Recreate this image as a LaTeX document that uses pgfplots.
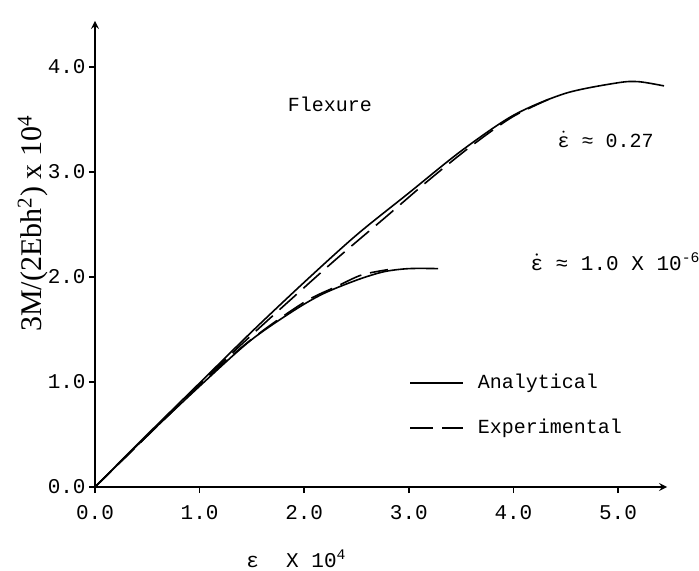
\documentclass[border=0pt]{standalone}
\usepackage{fontspec}
\setmainfont{Liberation Mono}
\newfontfamily\serif{Liberation Serif}
\usepackage{pgfplots}
\pgfplotsset{compat=1.18}

\newcommand{\edot}{$\dot{\mbox{ε}}$}

\begin{document}
\begin{tikzpicture}
\begin{axis}[
  x=52.3pt, y=52.5pt,
  xmin=0, xmax=5.47, ymin=0, ymax=4.44,
  axis lines=left,
  axis line style={line width=0.8pt},
  xtick={0,1,2,3,4,5}, ytick={0,1,2,3,4},
  /pgf/number format/.cd, fixed, fixed zerofill, precision=1, assume math mode=true,
  /pgfplots/.cd,
  tick align=outside, major tick length=3pt,
  tick style={line width=0.8pt, black},
  tick label style={font=\fontsize{10.5}{12}\selectfont},
  xticklabel style={yshift=-2.5pt},
  yticklabel style={inner sep=1.5pt},
  xlabel={ε\hspace{1.3em}X 10\textsuperscript{4}},
  every axis x label/.style={at={(axis description cs:0.352,0)}, yshift=-40pt, anchor=base, font=\fontsize{10.5}{12}\selectfont},
  ylabel={\serif 3M/(2Ebh\textsuperscript{2}) x 10\textsuperscript{4}},
  every axis y label/.style={at={(axis description cs:0,0.565)}, xshift=-31pt, rotate=90, anchor=center, font=\fontsize{15}{17}\selectfont},
  legend style={draw=none, fill=none, at={(axis cs:3.0,0.775)}, anchor=west,
    font=\fontsize{10}{12}\selectfont, row sep=12.5pt, column sep=7pt, inner sep=0pt,
    nodes={inner sep=0pt, text height=7.5pt, text depth=2.5pt}},
  legend cell align=left,
  legend image code/.code={\draw[#1] (0pt,0pt) -- (26.5pt,0pt);},
  clip=false,
]
% upper curves (flexure, rate 0.27)
\addplot[black, line width=0.8pt, smooth] coordinates {
  (0,0) (0.5,0.5) (1,0.99) (1.5,1.48) (2,1.95) (2.5,2.40) (3,2.80) (3.5,3.20)
  (4,3.54) (4.5,3.75) (5.0,3.85) (5.2,3.86) (5.44,3.82)
};
\addlegendentry{Analytical}
\addplot[black, line width=0.8pt, smooth, dash pattern=on 11.5pt off 4.5pt] coordinates {
  (0,0) (1,0.98) (1.5,1.45) (2.0,1.90) (2.34,2.20) (2.79,2.58) (3.2,2.93)
  (3.6,3.25) (4.0,3.53) (4.4,3.72)
};
\addlegendentry{Experimental}
% lower curves (rate 1.0e-6)
\addplot[black, line width=0.8pt, smooth, forget plot] coordinates {
  (0,0) (0.5,0.49) (1.0,0.96) (1.48,1.39) (1.9,1.68) (2.18,1.84) (2.5,1.97)
  (2.76,2.05) (3.0,2.08) (3.28,2.08)
};
\addplot[black, line width=0.8pt, smooth, dash pattern=on 11.5pt off 4.5pt, forget plot] coordinates {
  (0,0) (1.0,0.97) (1.5,1.41) (2.0,1.76) (2.31,1.91) (2.55,2.02) (2.8,2.07)
};
\node[anchor=west, inner sep=0pt, font=\fontsize{10}{12}\selectfont] at (axis cs:1.84,3.64) {Flexure};
\node[anchor=west, inner sep=0pt, font=\fontsize{10}{12}\selectfont] at (axis cs:4.42,3.31) {\edot{} ≈ 0.27};
\node[anchor=west, inner sep=0pt, font=\fontsize{10.5}{12}\selectfont] at (axis cs:4.16,2.15) {\edot{} ≈ 1.0 X 10\textsuperscript{-6}};
\coordinate (o) at (axis cs:0,0);
\end{axis}
\pgfresetboundingbox
\useasboundingbox ([shift={(-47.5pt,-41.5pt)}]o) rectangle ++(349.5pt,285pt);
\end{tikzpicture}
\end{document}
